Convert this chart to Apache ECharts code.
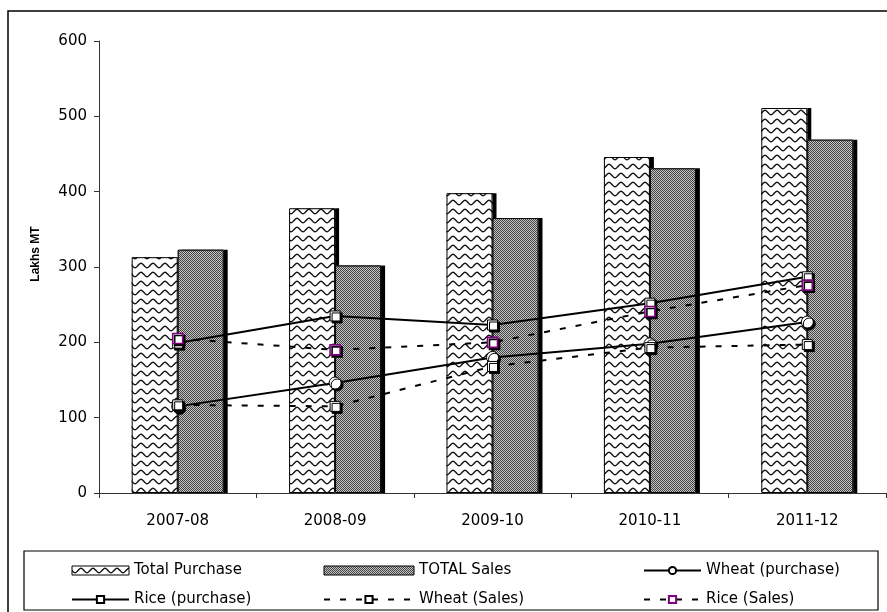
<!DOCTYPE html>
<html>
<head>
<meta charset="utf-8">
<script src="https://cdn.jsdelivr.net/npm/echarts@6/dist/echarts.min.js"></script>
<style>
  html, body { margin: 0; padding: 0; background: #fff; }
  #chart { width: 887px; height: 612px; }
</style>
</head>
<body>
<div id="chart"></div>
<script>
// Foodgrain purchase and sales, lakh metric tonnes
const years = ['2007-08', '2008-09', '2009-10', '2010-11', '2011-12'];
const totalPurchase = [313, 378, 398, 446, 511];
const totalSales = [323, 302, 365, 431, 469];
const wheatPurchase = [115, 146, 180, 198, 227];
const ricePurchase = [199, 235, 223, 252, 287];
const wheatSales = [117, 115, 168, 193, 197];
const riceSales = [205, 190, 200, 241, 276];
const yMin = 0, yMax = 600, yStep = 100;

// Wavy-line hatch used for the purchase bars
function wavePattern() {
  const w = 12, h = 9;
  const c = document.createElement('canvas');
  c.width = w; c.height = h;
  const g = c.getContext('2d');
  g.fillStyle = '#fff';
  g.fillRect(0, 0, w, h);
  g.strokeStyle = '#111';
  g.lineWidth = 1.4;
  g.beginPath();
  for (let x = -1; x <= w + 1; x += 0.5) {
    const y = 4.5 + 2.2 * Math.sin(x / w * 2 * Math.PI);
    if (x === -1) g.moveTo(x, y); else g.lineTo(x, y);
  }
  g.stroke();
  return c;
}

// Fine dotted grey used for the sales bars
function ditherPattern() {
  const c = document.createElement('canvas');
  c.width = 2; c.height = 2;
  const g = c.getContext('2d');
  g.fillStyle = '#c4c4c4';
  g.fillRect(0, 0, 2, 2);
  g.fillStyle = '#444';
  g.fillRect(0, 0, 1, 1);
  g.fillRect(1, 1, 1, 1);
  return c;
}

const font = 'DejaVu Sans';
const barShadow = { shadowColor: '#000', shadowOffsetX: 4, shadowOffsetY: 0, shadowBlur: 0 };
const markShadow = { shadowColor: '#000', shadowOffsetX: 2, shadowOffsetY: 2, shadowBlur: 0 };
const barBorder = { borderColor: '#000', borderWidth: 1 };

const legendBase = {
  orient: 'vertical',
  top: 558,
  itemGap: 14,
  itemWidth: 57,
  itemHeight: 9,
  selectedMode: false,
  textStyle: { fontFamily: font, fontSize: 15, color: '#000' },
  itemStyle: { shadowColor: 'rgba(0,0,0,0)', shadowOffsetX: 0, shadowOffsetY: 0 }
};

function lineSeries(name, data, symbol, size, border, dashed) {
  return {
    name: name,
    type: 'line',
    data: data,
    symbol: symbol,
    symbolSize: size,
    showAllSymbol: true,
    lineStyle: { color: '#000', width: 2, type: dashed ? [6, 10] : 'solid' },
    itemStyle: Object.assign({ color: '#fff', borderColor: border, borderWidth: border === '#000' ? 1 : 1.6 }, markShadow)
  };
}

// Filled bars (with drop shadow) sit on axis 0; their outlines are drawn
// on a hidden twin axis 1 so the border never picks up the shadow.
function barFill(name, data, pattern) {
  return {
    name: name, type: 'bar', data: data, xAxisIndex: 0, barWidth: 46, barGap: '0%',
    itemStyle: Object.assign({ color: { image: pattern, repeat: 'repeat' } }, barShadow)
  };
}
function barOutline(name, data) {
  return {
    name: name, type: 'bar', data: data, xAxisIndex: 1, barWidth: 46, barGap: '0%',
    itemStyle: Object.assign({ color: 'rgba(0,0,0,0)' }, barBorder)
  };
}

const axisFont = { fontFamily: font, fontSize: 15, color: '#000' };

const chart = echarts.init(document.getElementById('chart'));
chart.setOption({
  animation: false,
  backgroundColor: '#fff',
  grid: { left: 99, right: 1, top: 41, bottom: 119, containLabel: false },
  xAxis: [
    {
      type: 'category',
      data: years,
      boundaryGap: true,
      axisLine: { lineStyle: { color: '#333', width: 1 } },
      axisTick: { show: true, length: 5, lineStyle: { color: '#333' } },
      axisLabel: Object.assign({ margin: 21 }, axisFont),
      splitLine: { show: false }
    },
    {
      type: 'category',
      data: years,
      boundaryGap: true,
      position: 'bottom',
      show: false
    }
  ],
  yAxis: {
    type: 'value',
    min: yMin, max: yMax, interval: yStep,
    name: 'Lakhs MT',
    nameLocation: 'middle',
    nameGap: 57,
    nameTextStyle: { fontFamily: 'Liberation Sans', fontWeight: 'bold', fontSize: 12, color: '#000', padding: [0, 0, 0, 26] },
    axisLine: { show: true, lineStyle: { color: '#333', width: 1 } },
    axisTick: { show: true, length: 5, lineStyle: { color: '#333' } },
    axisLabel: Object.assign({ margin: 12 }, axisFont),
    splitLine: { show: false }
  },
  legend: [
    Object.assign({}, legendBase, { left: 66, data: [
      { name: 'Total Purchase', icon: 'rect', itemStyle: barBorder }, 'Rice (purchase)'] }),
    Object.assign({}, legendBase, { left: 318, itemWidth: 90, data: [
      { name: 'TOTAL Sales', icon: 'rect', itemStyle: barBorder }, 'Wheat (Sales)'] }),
    Object.assign({}, legendBase, { left: 638, data: ['Wheat (purchase)', 'Rice (Sales)'] })
  ],
  graphic: [
    { type: 'rect', silent: true, z: -10, shape: { x: 8, y: 11, width: 900, height: 700 },
      style: { fill: 'none', stroke: '#000', lineWidth: 1.5 } },
    { type: 'rect', silent: true, shape: { x: 24, y: 551, width: 854, height: 59 },
      style: { fill: 'none', stroke: '#000', lineWidth: 1.2 } }
  ],
  series: [
    barFill('Total Purchase', totalPurchase, wavePattern()),
    barFill('TOTAL Sales', totalSales, ditherPattern()),
    barOutline('Total Purchase', totalPurchase),
    barOutline('TOTAL Sales', totalSales),
    lineSeries('Wheat (purchase)', wheatPurchase, 'circle', 12, '#000', false),
    lineSeries('Rice (purchase)', ricePurchase, 'rect', 10, '#000', false),
    lineSeries('Wheat (Sales)', wheatSales, 'rect', 10, '#000', true),
    lineSeries('Rice (Sales)', riceSales, 'rect', 10, '#800080', true)
  ]
});
</script>
</body>
</html>
